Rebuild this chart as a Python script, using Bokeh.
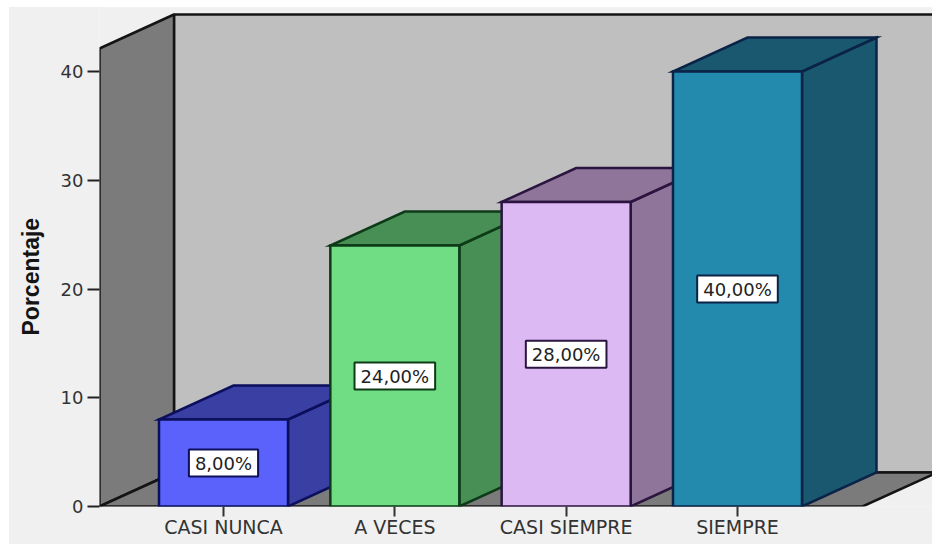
from bokeh.embed import file_html
from bokeh.models import FixedTicker, Label, Range1d, Title
from bokeh.plotting import figure
from bokeh.resources import INLINE

# Survey answers and their shares
categories = ["CASI NUNCA", "A VECES", "CASI SIEMPRE", "SIEMPRE"]
values = [8, 24, 28, 40]
value_labels = ["8,00%", "24,00%", "28,00%", "40,00%"]
y_ticks = [0, 10, 20, 30, 40]

# Colours per bar: front face, shaded sides, edges
face_colors = ["#5a62fb", "#70dc84", "#dcb9f2", "#2389ad"]
side_colors = ["#3a3fa3", "#488f55", "#8f7599", "#19586f"]
edge_colors = ["#0b0f5c", "#0d3a17", "#2b1440", "#0a2347"]

WIDTH, HEIGHT = 932, 544
PLOT_LEFT, PLOT_BOTTOM, PLOT_TOP = 99, 38, 7
PX_PER_CAT = 171.33
PX_PER_UNIT = 10.875

# Oblique depth of the 3D box, in data units
DX = 74.5 / PX_PER_CAT
DY = 34 / PX_PER_UNIT
BAR_W = 129 / PX_PER_CAT
FLOOR_L = (99 - 223) / PX_PER_CAT
FLOOR_R = (862 - 223) / PX_PER_CAT
WALL_TOP = (506 - 48) / PX_PER_UNIT

frame_w = WIDTH - PLOT_LEFT
frame_h = HEIGHT - PLOT_BOTTOM - PLOT_TOP
x_start = FLOOR_L
x_end = x_start + frame_w / PX_PER_CAT

p = figure(
    width=WIDTH, height=HEIGHT,
    output_backend="svg", toolbar_location=None,
    x_range=Range1d(x_start, x_end),
    y_range=Range1d(0, frame_h / PX_PER_UNIT),
    min_border_left=PLOT_LEFT, min_border_right=0,
    min_border_top=PLOT_TOP, min_border_bottom=PLOT_BOTTOM,
    background_fill_color="#f0f0f0", border_fill_color="#f0f0f0",
    outline_line_color=None,
)
# White strip along the top and left of the page
p.styles = {"clip-path": "inset(7px 0 0 9px)"}
p.grid.visible = False

# Chart box: back wall, left wall and floor
wall_line = dict(line_color="#141414", line_width=2.5)
p.patch([FLOOR_L + DX, FLOOR_L + DX, FLOOR_R + DX, FLOOR_R + DX],
        [DY, WALL_TOP + DY, WALL_TOP + DY, DY], fill_color="#bfbfbf", **wall_line)
p.patch([FLOOR_L, FLOOR_L, FLOOR_L + DX, FLOOR_L + DX],
        [0, WALL_TOP, WALL_TOP + DY, DY], fill_color="#7b7b7b", **wall_line)
p.patch([FLOOR_L, FLOOR_R, FLOOR_R + DX, FLOOR_L + DX],
        [0, 0, DY, DY], fill_color="#7b7b7b", **wall_line)

# Bars, drawn left to right so that each one covers its neighbour's side
for i, v in enumerate(values):
    x0, x1 = i - BAR_W / 2, i + BAR_W / 2
    edge = dict(line_color=edge_colors[i], line_width=2.5, line_join="miter")
    p.patch([x1, x1 + DX, x1 + DX, x1], [0, DY, v + DY, v], fill_color=side_colors[i], **edge)
    p.patch([x0, x1, x1 + DX, x0 + DX], [v, v, v + DY, v + DY], fill_color=side_colors[i], **edge)
    p.patch([x0, x1, x1, x0], [0, 0, v, v], fill_color=face_colors[i], **edge)

# Value tags centred on each front face, outlined in the bar's edge colour
for i, (v, text) in enumerate(zip(values, value_labels)):
    p.add_layout(Label(
        x=i, y=v / 2, text=text,
        text_align="center", text_baseline="middle",
        text_font="DejaVu Sans", text_font_size="18px", text_color="#222222",
        background_fill_color="#ffffff", border_line_color=edge_colors[i], border_line_width=2,
        padding=(6, 3),
    ))

# Axes
ax = p.xaxis[0]
ax.ticker = FixedTicker(ticks=list(range(len(categories))))
ax.major_label_overrides = {i: c for i, c in enumerate(categories)}
ax.axis_line_color = None
ax.major_tick_in = 0
ax.major_tick_out = 10
ax.major_tick_line_color = "#333333"
ax.major_tick_line_width = 2
ax.minor_tick_line_color = None
ax.major_label_standoff = -1
ax.major_label_text_font = "DejaVu Sans"
ax.major_label_text_font_size = "19px"
ax.major_label_text_color = "#333333"

ay = p.yaxis[0]
ay.ticker = FixedTicker(ticks=y_ticks)
ay.axis_line_color = None
ay.major_tick_in = 0
ay.major_tick_out = 12
ay.major_tick_line_color = "#222222"
ay.major_tick_line_width = 2
ay.minor_tick_line_color = None
ay.major_label_standoff = 4
ay.major_label_text_font = "DejaVu Sans"
ay.major_label_text_font_size = "18px"
ay.major_label_text_color = "#333333"

# Axis title, measured up from the floor so it sits beside the wall's middle
p.add_layout(Title(
    text="Porcentaje", align="left", offset=171, standoff=27,
    text_font="Liberation Sans", text_font_style="bold", text_font_size="23px",
    text_color="#141414",
), "left")

open("out.html", "w").write(file_html(p, INLINE))
